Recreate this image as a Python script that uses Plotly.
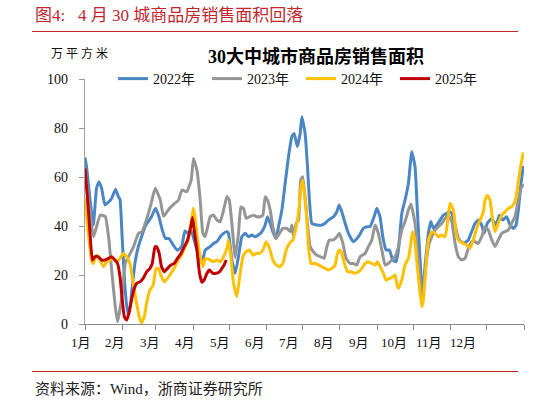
import plotly.graph_objects as go

# =============================================================================
# DATA — 30大中城市商品房销售面积（万平方米），横轴为一年中的第几天（0 = 1月1日）
# =============================================================================

days_2022 = [0, 1.3, 4.2, 6.9, 9.6, 11.6, 13.8, 16.6, 19.9, 22.1, 25.4, 27.7, 29.1, 31, 33.2,
             35.4, 37.4, 39.3, 41.5, 44.3, 47, 49.9, 52.6, 55.3, 58.7, 61.5, 64.2, 67, 69.8,
             73.4, 76.7, 80.3, 83.1, 85.8, 88.3, 93, 97.2, 100, 104.1, 106.9, 109.7, 112.4,
             115.2, 118, 119.3, 122.1, 124.9, 127.6, 130.4, 133.2, 135.9, 138.7, 141.5, 144.2,
             147.1, 149.8, 151.7, 154, 156.7, 158.9, 160.9, 163.7, 166.4, 169.2, 172, 173.9,
             176.6, 178.9, 180.3, 183, 185, 186.6, 188.6, 192.8, 196.9, 199.7, 202.4, 206.6,
             209.4, 211.3, 213.5, 216.3, 219, 223.2, 227.3, 231.5, 234.3, 237, 240.4, 242.6,
             245.3, 247.6, 250.3, 253.1, 255.9, 258.6, 260.6, 263.4, 266.1, 268.9, 271.7,
             274.4, 276.3, 278.6, 280.5, 282.7, 285.5, 287.5, 289.6, 292.5, 295.2, 297.9,
             300.8, 302.9, 304.9, 307.7, 310.4, 314.6, 318.7, 321.5, 324.3, 327, 329.8, 331.8,
             334.5, 338.2, 341.7, 344.5, 347.3, 350.6, 353.4, 356.1, 358.4, 360.3, 362.2, 364.4]
area_2022 = [68.0, 64.2, 50.6, 40.4, 55.4, 58.1, 55.4, 48.6, 49.9, 51.2, 55.0, 52.0, 50.9, 34.3, 15.2,
             4.4, 6.9, 15.2, 24.7, 31.5, 35.6, 39.7, 41.8, 43.8, 47.2, 43.8, 38.4, 34.9, 34.9,
             32.2, 30.1, 31.5, 38.0, 37.0, 38.0, 30.2, 24.8, 30.2, 31.6, 32.9, 33.6, 35.6,
             37.0, 37.7, 37.0, 26.1, 20.7, 27.5, 35.6, 37.0, 35.6, 36.3, 35.6, 36.3,
             37.7, 40.4, 43.8, 41.1, 37.0, 34.9, 39.7, 46.5, 57.4, 68.3, 76.5, 77.8,
             72.4, 77.8, 84.6, 77.8, 64.2, 50.6, 41.1, 40.4, 40.4, 41.1, 42.4, 43.8,
             45.8, 48.6, 45.8, 41.1, 37.0, 33.6, 35.6, 39.0, 39.7, 39.7, 43.8, 47.2,
             43.8, 35.6, 30.2, 30.2, 26.1, 25.4, 30.2, 45.1, 50.6, 57.4, 70.3,
             64.2, 46.5, 26.1, 11.8, 23.4, 37.0, 41.8, 39.1, 40.4, 42.4, 44.4,
             45.2, 45.8, 45.2, 40.4, 34.9, 32.9, 34.3, 37.7, 41.1, 42.4, 40.4, 37.0,
             41.1, 43.1, 40.4, 44.4, 42.4, 43.8, 40.4, 39.0, 40.4, 46.5, 56.1, 64.5]

days_2023 = [0, 3.5, 7.1, 12.7, 16.9, 19.6, 22.4, 25.2, 27.1, 30.7, 33.5, 37.6, 40.4, 44.5, 47.4,
             50.1, 54.3, 58.4, 62.6, 65.3, 69.5, 73.6, 77.8, 80.6, 84.7, 88.3, 90.2, 93, 95.8,
             98, 99.9, 104.1, 106.8, 109.7, 112.4, 115.2, 118, 119.9, 122.1, 124.9, 127.6,
             129.6, 131.8, 134, 136.8, 140.1, 142.9, 145.6, 147.9, 149.8, 151.7, 154, 156.2,
             158.9, 161.7, 164.5, 167.8, 170.6, 172, 173.3, 175.6, 177.5, 179.4, 181.1, 184.4,
             187.2, 189.9, 192.8, 195.5, 198.8, 201.1, 203.2, 206.6, 209.4, 211.5, 214.4,
             217.1, 220.4, 223.2, 226, 228.7, 232.9, 235.6, 238.5, 241.2, 243.9, 246.8, 249.5,
             252.2, 255.1, 257.8, 260.6, 263.4, 266.1, 268.9, 271, 274.4, 276.3, 278.6, 280.5,
             282.7, 285.5, 288.3, 291, 293.8, 296.6, 299.4, 302.1, 304.9, 307.7, 310.4, 313.2,
             316, 318.7, 321.5, 324.3, 327, 329.8, 332.6, 335.3, 338.2, 340.9, 343.6, 346.5,
             349.2, 352, 354.8, 357.5, 360.3, 363.1, 365]
area_2023 = [63.0, 48.0, 35.6, 44.5, 43.8, 35.6, 20.8, 7.0, 0.9, 11.2, 24.8, 28.8, 31.6, 37.0, 37.7,
             41.1, 47.9, 55.4, 50.6, 44.0, 46.7, 48.8, 50.6, 54.7, 54.0, 58.8, 67.6, 62.9, 50.6,
             37.0, 35.6, 43.8, 44.5, 42.4, 41.7, 46.5, 52.0, 50.6, 41.1, 27.0, 36.9,
             47.8, 47.2, 43.1, 43.8, 44.4, 43.8, 43.8, 44.4, 51.9, 50.6, 46.5, 39.7,
             34.9, 37.0, 39.0, 39.0, 37.7, 40.4, 35.6, 41.1, 42.4, 58.8, 60.1, 43.8,
             31.6, 29.5, 28.1, 27.5, 26.8, 31.6, 34.3, 34.3, 35.6, 37.0, 32.9,
             26.8, 24.7, 24.7, 24.1, 27.5, 28.8, 31.6, 34.3, 40.4, 37.0, 30.2, 24.1,
             24.7, 26.1, 27.5, 31.6, 38.4, 41.8, 46.5, 49.0, 41.1, 30.2, 19.3, 9.8,
             20.7, 31.6, 35.6, 38.4, 39.7, 41.1, 43.1, 44.4, 41.8, 32.9, 27.5, 26.1,
             26.8, 30.9, 33.6, 33.6, 32.9, 35.6, 39.7, 38.4, 34.3, 31.6, 34.3, 37.0,
             37.7, 38.4, 41.1, 43.8, 50.6, 56.1, 56.7]

days_2024 = [0, 2.7, 5.5, 6.9, 9.6, 12.5, 15.2, 18, 20.8, 23.5, 26.3, 29.1, 31.8, 34.6, 37.4,
             40.1, 42.9, 45.1, 47, 49.3, 51.2, 54, 56.7, 59, 60.9, 63.6, 65.9, 68.6, 71.5,
             74.8, 77.5, 80.3, 83.1, 85.8, 88.1, 90, 91.6, 93.6, 95.8, 98, 100, 104.1, 106.8,
             109.7, 112.4, 115.2, 118, 119.3, 121.3, 123.5, 126.3, 129, 131.3, 134, 136.8,
             139.6, 142.3, 145.1, 147.9, 150.6, 153.4, 156.2, 158.9, 161.7, 164.5, 167.3, 170,
             172.8, 175.6, 177.8, 179.7, 181.1, 183.9, 185.8, 188, 191.3, 194.1, 196.9, 199.7,
             202.4, 205.2, 208, 209.9, 211.5, 213.5, 215.7, 218.5, 221.3, 224, 227.3, 230.1,
             232.9, 235.6, 238.5, 241.2, 243.1, 245.3, 248.1, 250.3, 253.1, 255.9, 257.8,
             259.2, 260.6, 263.4, 266.1, 268.9, 270.9, 272.2, 274.2, 275.8, 278, 280, 281.3,
             283.6, 285.5, 288.3, 291, 293.8, 296.6, 299.4, 301.3, 303.5, 306.3, 309.1, 311.8,
             314.6, 317.4, 320.1, 322.9, 325.7, 328.4, 331.2, 332.6, 334.5, 336.7, 339, 340.9,
             343.6, 346.5, 349.2, 352, 354.8, 357.5, 359.4, 361.7, 364.4]
area_2024 = [51.3, 36.9, 26.1, 24.7, 28.1, 26.1, 23.4, 25.4, 26.1, 26.8, 25.4, 26.8, 28.8, 27.5, 24.7,
             16.6, 8.4, 3.0, 0.5, 3.0, 8.4, 13.9, 15.9, 22.7, 22.7, 19.3, 17.2, 18.6, 20.7,
             23.4, 26.1, 28.1, 31.5, 34.2, 41.0, 47.2, 43.1, 34.3, 27.5, 23.4, 26.8, 26.1, 25.4,
             26.1, 25.4, 27.5, 30.9, 34.3, 27.5, 16.6, 11.2, 20.7, 27.5, 29.5, 30.2,
             28.1, 28.8, 28.8, 30.2, 33.6, 30.9, 26.1, 24.1, 23.4, 24.7, 30.2, 32.9,
             34.3, 39.7, 46.5, 56.1, 58.7, 46.5, 31.6, 24.7, 24.7, 24.1, 23.4, 22.7,
             22.0, 22.7, 24.1, 28.8, 30.2, 28.8, 24.7, 21.3, 21.3, 20.7, 21.3, 22.7,
             24.7, 25.4, 24.7, 24.1, 25.4, 23.4, 20.7, 17.9, 18.6, 19.3, 20.0,
             16.6, 14.5, 18.0, 24.1, 26.8, 32.9, 37.7, 34.3, 26.1, 15.2, 7.1, 9.8,
             24.7, 34.3, 37.7, 37.0, 35.6, 36.3, 35.6, 41.1, 49.3, 46.5, 35.6, 33.6,
             32.9, 32.2, 30.9, 34.3, 39.1, 42.4, 45.8, 50.6, 52.6, 50.6, 42.4, 37.7,
             41.1, 44.4, 45.8, 47.2, 47.9, 49.9, 54.7, 62.9, 70.0]

days_2025 = [0, 2.2, 4.2, 6.1, 8.3, 11, 13.8, 16.6, 19.4, 22.1, 24.9, 27.1, 29.1, 31, 32.7, 34.6,
             36.6, 38.7, 41, 42.9, 45.7, 48.4, 51.2, 54, 55.9, 58.2, 59.5, 61.7, 63.6, 65.9,
             68.6, 71.5, 74.2, 76.9, 79.8, 82.5, 85.2, 88.1, 89.4, 90.8, 93.1, 95.2, 97.2,
             99.1, 101.4, 103.5, 106.3, 109.1, 111.8, 113.8, 115.7, 117.4]
area_2025 = [63.5, 50.6, 37.1, 26.1, 27.5, 27.5, 26.1, 26.1, 26.8, 27.5, 26.1, 24.7, 19.3, 9.8, 3.0, 1.6,
             4.4, 9.8, 14.6, 16.6, 17.2, 18.6, 21.3, 22.7, 24.7, 31.5, 31.5, 28.8, 23.4, 21.3,
             22.7, 24.1, 24.7, 26.8, 28.8, 31.5, 34.2, 40.1, 43.5, 38.4, 30.2, 20.7, 17.0,
             18.0, 20.7, 22.0, 20.7, 20.7, 21.3, 22.7, 24.1, 26.1]

series_names = ["2022年", "2023年", "2024年", "2025年"]
series_colors = ["#4A86C5", "#959595", "#FFC000", "#C00000"]

month_labels = ["1月", "2月", "3月", "4月", "5月", "6月", "7月", "8月", "9月", "10月", "11月", "12月"]
month_start_days = [0, 31, 59, 90, 120, 151, 181, 212, 243, 273, 304, 334, 365]
y_ticks = [0, 20, 40, 60, 80, 100]

# =============================================================================
# LAYOUT HELPERS (pixel -> paper)
# =============================================================================

W, H = 548, 402
L, R, T, B = 85, 24, 79, 78
PW, PH = W - L - R, H - T - B


def px(x):
    return (x - L) / PW


def py(y):
    return (H - B - y) / PH


SERIF_CJK = "Liberation Serif, Noto Sans CJK SC"
TITLE_RED = "#C0272D"

# =============================================================================
# FIGURE
# =============================================================================

fig = go.Figure()

all_days = [days_2022, days_2023, days_2024, days_2025]
all_area = [area_2022, area_2023, area_2024, area_2025]
for name, color, d, v in zip(series_names, series_colors, all_days, all_area):
    fig.add_trace(go.Scatter(
        x=d, y=v, name=name, mode="lines",
        line=dict(color=color, width=3, shape="spline", smoothing=0.4),
    ))

# month labels sit slightly off the tick marks, like the Excel original
for i, lab in enumerate(month_labels):
    fig.add_annotation(
        x=px(80.5 + i * 34.8), y=py(342), xref="paper", yref="paper",
        xanchor="center", yanchor="middle",
        text=lab, showarrow=False,
        font=dict(family=SERIF_CJK, size=13, color="#111"),
    )

# header / footer texts
fig.add_annotation(x=px(33), y=py(15), xref="paper", yref="paper", xanchor="left",
                   yanchor="middle", showarrow=False,
                   text="图4:   4 月 30 城商品房销售面积回落",
                   font=dict(family=SERIF_CJK, size=17, color=TITLE_RED))
fig.add_annotation(x=px(316), y=py(56), xref="paper", yref="paper", xanchor="center",
                   yanchor="middle", showarrow=False,
                   text="<b>30大中城市商品房销售面积</b>",
                   font=dict(family=SERIF_CJK, size=18, color="#000"))
fig.add_annotation(x=px(79), y=py(53), xref="paper", yref="paper", xanchor="center",
                   yanchor="middle", showarrow=False, text="万 平 方 米",
                   font=dict(family=SERIF_CJK, size=12, color="#111"))
fig.add_annotation(x=px(33), y=py(389), xref="paper", yref="paper", xanchor="left",
                   yanchor="middle", showarrow=False,
                   text="资料来源：Wind，浙商证券研究所",
                   font=dict(family=SERIF_CJK, size=15, color="#222"))

for yy in (31.5, 371.5):
    fig.add_shape(type="line", xref="paper", yref="paper",
                  x0=px(32), x1=px(518), y0=py(yy), y1=py(yy),
                  line=dict(color=TITLE_RED, width=1))

fig.update_layout(
    width=W, height=H,
    margin=dict(l=L, r=R, t=T, b=B),
    paper_bgcolor="white",
    plot_bgcolor="white",
    showlegend=True,
    legend=dict(
        orientation="h", x=px(113), y=1.0, xanchor="left", yanchor="middle",
        font=dict(family=SERIF_CJK, size=14, color="#111"),
        bgcolor="rgba(255,255,255,0)",
        entrywidth=49, entrywidthmode="pixels",
        itemclick=False,
    ),
    xaxis=dict(
        range=[0, 365],
        tickvals=month_start_days, showticklabels=False,
        ticks="outside", ticklen=5, tickcolor="#888", tickwidth=1,
        showline=True, linecolor="#888", linewidth=1.2,
        showgrid=False, zeroline=False, fixedrange=True,
    ),
    yaxis=dict(
        range=[0, 100],
        tickvals=y_ticks,
        ticks="outside", ticklen=5, tickcolor="#999", tickwidth=1,
        ticklabelstandoff=8,
        showline=True, linecolor="#a0a0a0", linewidth=1.2,
        showgrid=False, zeroline=False, fixedrange=True,
        tickfont=dict(family="Liberation Serif", size=14, color="#111"),
    ),
)

# the page's default 8px body margin would shift the whole chart
fig.write_html("out.html", config={"displayModeBar": False},
               post_script="document.body.style.margin='0';")
